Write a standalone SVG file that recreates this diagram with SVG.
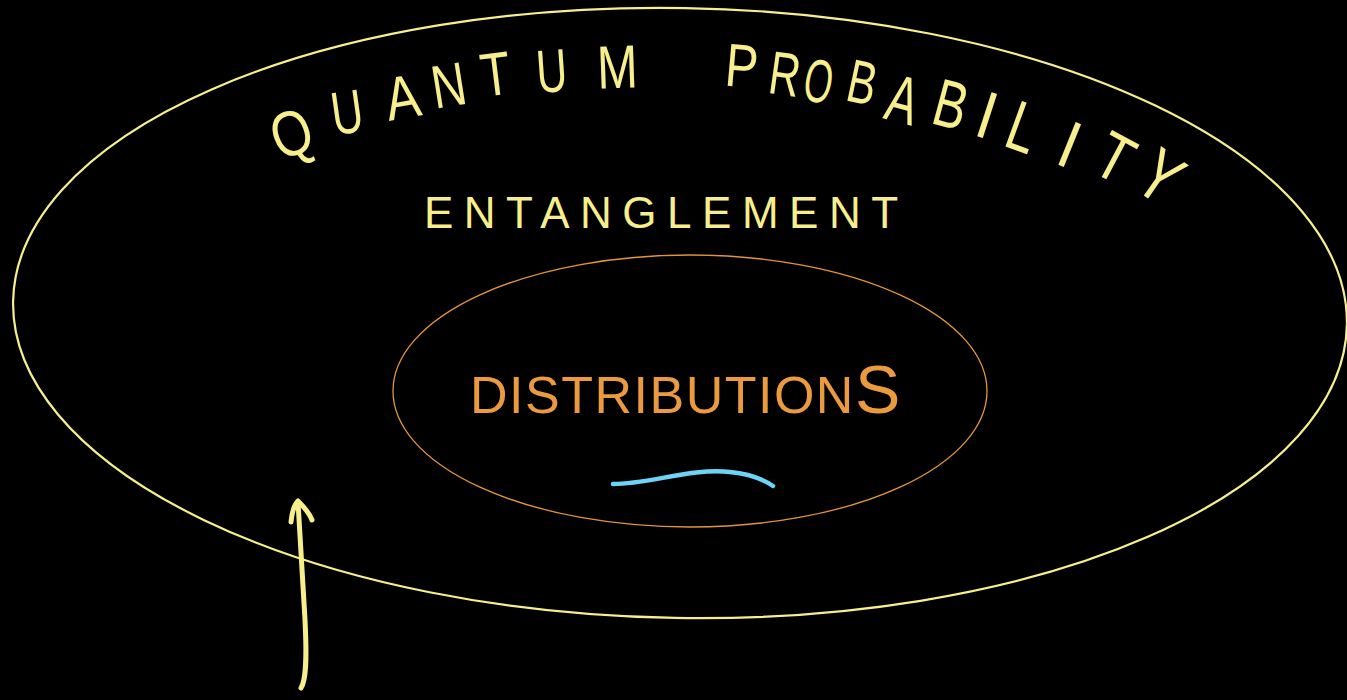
<svg xmlns="http://www.w3.org/2000/svg" width="1347" height="700" viewBox="0 0 1347 700">
<style>
.bg{fill:#000}
.outer{fill:none;stroke:#f7ef8c;stroke-width:2.2}
.inner{fill:none;stroke:#e3953a;stroke-width:1.3}
.yt{fill:#f7ef8c;font-family:"Liberation Sans",Arial,sans-serif}
.tl text{font-size:61px;text-anchor:middle}
.ot{fill:#eb9a3e;font-family:"Liberation Sans",Arial,sans-serif}
.wave{fill:none;stroke:#6cd4f7;stroke-width:4.5;stroke-linecap:round}
.arrow{fill:none;stroke:#f7ef8c;stroke-width:5;stroke-linecap:round;stroke-linejoin:round}
</style>
<rect class="bg" x="0" y="0" width="1347" height="700"/>
<g id="quantum-probability">
<ellipse class="outer" cx="680" cy="313" rx="667" ry="305" transform="rotate(1 680 313)"/>
<g class="yt tl">
<text transform="translate(299 154) rotate(-20) scale(0.85 1.05)">Q</text>
<text transform="translate(350 133) rotate(-8) scale(0.72 1)">U</text>
<text transform="translate(406 118) rotate(-10) scale(0.85 1)">A</text>
<text transform="translate(452 106) rotate(-9) scale(0.78 1)">N</text>
<text transform="translate(498 95) rotate(-7) scale(0.8 1)">T</text>
<text transform="translate(553 92) rotate(-4) scale(0.7 1)">U</text>
<text transform="translate(618 88) rotate(-2) scale(0.8 1)">M</text>
<text transform="translate(740 87) rotate(5) scale(0.8 1)">P</text>
<text transform="translate(782 95) rotate(8) scale(0.7 1)">R</text>
<text transform="translate(815 102) rotate(10) scale(0.6 1)">O</text>
<text transform="translate(858 103) rotate(12) scale(0.7 1)">B</text>
<text transform="translate(897 122) rotate(15) scale(0.75 1.1)">A</text>
<text transform="translate(945 127) rotate(15) scale(0.8 1.1)">B</text>
<text transform="translate(980 137) rotate(18) scale(1 1.1)">I</text>
<text transform="translate(1015 150) rotate(20) scale(0.85 1.15)">L</text>
<text transform="translate(1061 166) rotate(22) scale(1 1.1)">I</text>
<text transform="translate(1104 178) rotate(28) scale(0.9 1.1)">T</text>
<text transform="translate(1146 197) rotate(35) scale(0.9 1.2)">Y</text>
</g>
</g>
<g id="entanglement">
<text class="yt" x="424" y="228" font-size="44" letter-spacing="10.5">ENTANGLEMENT</text>
</g>
<g id="distributions">
<ellipse class="inner" cx="690" cy="391" rx="297" ry="136"/>
<text class="ot" x="470" y="413" font-size="52" letter-spacing="1.5">DISTRIBUTION<tspan font-size="68">S</tspan></text>
<path class="wave" d="M613,484 C650,484 690,468 730,472 C750,474 763,479 773,486"/>
</g>
<g id="connectors">
<path class="arrow" d="M301,688 C306,680 307,660 305,620 C303,580 300,540 298,502"/>
<path class="arrow" d="M291,522 C292,512 294,505 298,501 C303,506 309,512 312,520"/>
</g>
</svg>
